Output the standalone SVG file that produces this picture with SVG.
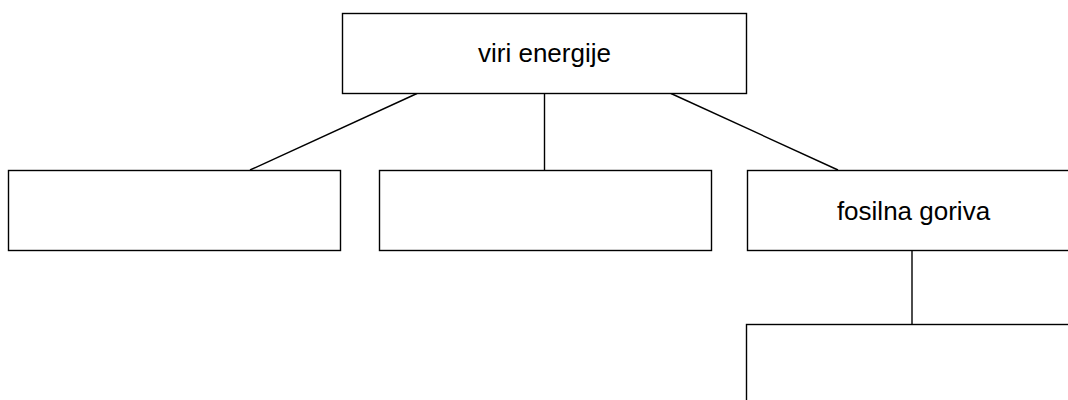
<svg xmlns="http://www.w3.org/2000/svg" width="1068" height="400" viewBox="0 0 1068 400">
<style>
.box{fill:#fff;stroke:#000;stroke-width:1.4}
.lbl{font-family:"Liberation Sans",Arial,sans-serif;font-size:26px;fill:#000;text-anchor:middle}
.conn line{stroke:#000;stroke-width:1.4}
</style>
<rect width="1068" height="400" fill="#fff"/>
<g class="conn">
<line x1="417" y1="93.5" x2="250" y2="170"/>
<line x1="544.5" y1="93.5" x2="544.5" y2="170"/>
<line x1="671" y1="93.5" x2="838" y2="170"/>
<line x1="912" y1="250" x2="912" y2="324"/>
</g>
<g id="n-viri"><rect class="box" x="342.5" y="13.5" width="404" height="80"/><text class="lbl" x="544.5" y="62">viri energije</text></g>
<g id="n-left"><rect class="box" x="8.5" y="170.5" width="332" height="80"/></g>
<g id="n-mid"><rect class="box" x="379.5" y="170.5" width="332" height="80"/></g>
<g id="n-fosil"><rect class="box" x="747.5" y="170.5" width="332" height="80"/><text class="lbl" x="913.5" y="220">fosilna goriva</text></g>
<g id="n-bottom"><rect class="box" x="746.5" y="324.5" width="332" height="80"/></g>
</svg>
